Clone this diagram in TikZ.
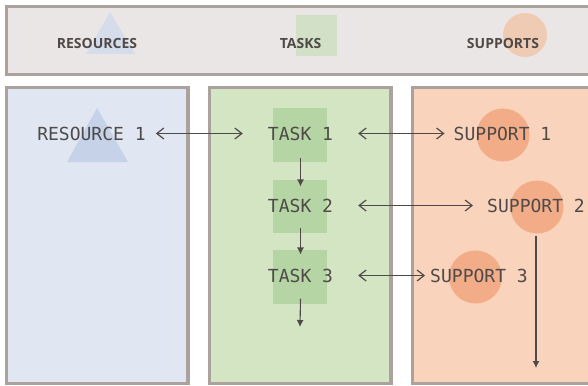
\documentclass[tikz,border=0pt]{standalone}
\usepackage{fontspec}
\setmainfont{Open Sans}
\setmonofont{DejaVu Sans Mono}
\usetikzlibrary{arrows.meta,calc}

\definecolor{framegray}{HTML}{ABA29E}
\definecolor{barfill}{HTML}{EBE6E6}
\definecolor{inkgray}{HTML}{4F4A48}
\definecolor{resfill}{HTML}{E0E7F3}
\definecolor{resmark}{HTML}{D5DCEA}
\definecolor{resshape}{HTML}{C5D2E8}
\definecolor{taskfill}{HTML}{D4E5C4}
\definecolor{taskmark}{HTML}{D1E0C6}
\definecolor{taskshape}{HTML}{B5D5A4}
\definecolor{supfill}{HTML}{F9D3BB}
\definecolor{supmark}{HTML}{F0CBB3}
\definecolor{supshape}{HTML}{F2AD88}

\begin{document}
\begin{tikzpicture}[x=1pt,y=-1pt,
  panel/.style={draw=framegray,line width=3.3pt},
  lbl/.style={font=\fontsize{18}{20}\selectfont\ttfamily,text=inkgray,inner sep=0pt},
  head/.style={font=\fontsize{14}{16}\selectfont\bfseries,text=inkgray,inner sep=0pt,anchor=base},
  link/.style={draw=inkgray,line width=1.2pt,
    {Straight Barb[length=7pt,width=11pt]}-{Straight Barb[length=7pt,width=11pt]}},
  flow/.style={draw=inkgray,line width=1.1pt,-{Latex[length=7pt,width=7pt]}}]
\useasboundingbox (0,0) rectangle (588,385);
\clip (0,0) rectangle (588,385);
\fill[white] (0,0) rectangle (588,385);

% header bar and the three columns
\draw[panel,fill=barfill] (6.5,6.5) rectangle (600,74.5);
\draw[panel,fill=resfill] (6.5,87.5) rectangle (188,383.5);
\draw[panel,fill=taskfill] (209.5,87.5) rectangle (391,383.5);
\draw[panel,fill=supfill] (412.5,87.5) rectangle (600,383.5);

% header marks
\fill[resmark] (110,12) -- (135,54) -- (86,54) -- cycle;
\fill[taskmark] (296,15) rectangle (337,56);
\fill[supmark] (525,35) circle (22);

\node[head] (hres) at (97,49) {RESOURCES};
\node[head] (htask) at (300.5,49) {TASKS};
\node[head] (hsup) at (503,49) {SUPPORTS};

% column shapes
\fill[resshape] (97,108) -- (128,162) -- (67,162) -- cycle;
\fill[taskshape] (273,108) rectangle (327,162);
\fill[taskshape] (273,180) rectangle (327,233);
\fill[taskshape] (273,250) rectangle (327,304);
\fill[supshape] (503,135) circle (26.5);
\fill[supshape] (537,207) circle (26.5);
\fill[supshape] (475.5,277) circle (26.5);

% labels
\node[lbl] (r1) at (91.5,133.5) {RESOURCE 1};
\node[lbl] (t1) at (300.5,133.5) {TASK 1};
\node[lbl] (t2) at (300.5,205.5) {TASK 2};
\node[lbl] (t3) at (300.5,275.5) {TASK 3};
\node[lbl] (s1) at (502.5,133.5) {SUPPORT 1};
\node[lbl] (s2) at (536,205.5) {SUPPORT 2};
\node[lbl] (s3) at (479,275.5) {SUPPORT 3};
\coordinate (tend) at (300,327);
\coordinate (send) at (536,368);

% connectors
\draw[link] ($(r1.east)+(10,0)$) -- ($(t1.west)+(-25,0)$);
\draw[link] ($(t1.east)+(25,0)$) -- ($(s1.west)+(-9,0)$);
\draw[link] ($(t2.east)+(25,0)$) -- ($(s2.west)+(-14,0)$);
\draw[link] ($(t3.east)+(25,0)$) -- ($(s3.west)+(-5,0)$);

\draw[flow] ($(t1.south)+(0,17)$) -- ($(t2.north)+(0,-12)$);
\draw[flow] ($(t2.south)+(0,15)$) -- ($(t3.north)+(0,-14)$);
\draw[flow] ($(t3.south)+(0,16)$) -- (tend);
\draw[flow] ($(s2.south)+(0,23)$) -- (send);
\end{tikzpicture}
\end{document}
